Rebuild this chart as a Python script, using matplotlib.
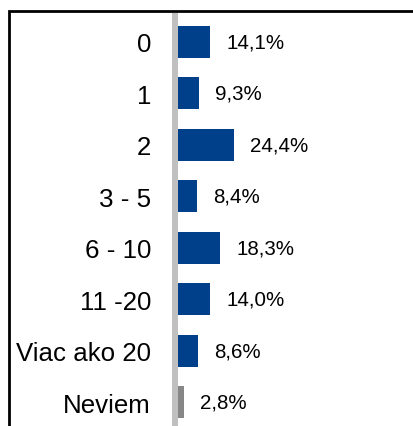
import matplotlib
matplotlib.use("Agg")
import matplotlib.pyplot as plt
from matplotlib.patches import Rectangle

categories = ["0", "1", "2", "3 - 5", "6 - 10", "11 -20", "Viac ako 20", "Neviem"]
values = [14.1, 9.3, 24.4, 8.4, 18.3, 14.0, 8.6, 2.8]
labels = ["14,1%", "9,3%", "24,4%", "8,4%", "18,3%", "14,0%", "8,6%", "2,8%"]
colors = ["#00408A"] * 7 + ["#878787"]

plt.rcParams['font.family'] = ['Liberation Sans', 'DejaVu Sans']

W, H = 413, 427
fig = plt.figure(figsize=(W / 100, H / 100), dpi=100)

# axes in pixel coordinates
x0, x1 = 178, 400
y_top, y_bot = 17, 429
ax = fig.add_axes([x0 / W, 1 - y_bot / H, (x1 - x0) / W, (y_bot - y_top) / H])

ypos = list(range(len(categories)))
ax.barh(ypos, values, height=0.62, color=colors, edgecolor='none')
ax.set_ylim(len(categories) - 0.5, -0.5)
ax.set_xlim(0, (x1 - x0) / 2.3)

for y, v, t in zip(ypos, values, labels):
    ax.annotate(t, xy=(v, y), xytext=(11.5, 0), textcoords='offset points',
                ha='left', va='center', fontsize=14.8, color='black')

ax.set_yticks(ypos)
ax.set_yticklabels(categories)
ax.tick_params(axis='y', length=0, pad=17.3, labelsize=18.6)
ax.set_xticks([])
for s in ['top', 'right', 'bottom']:
    ax.spines[s].set_visible(False)
ax.spines['left'].set_color('#C0C0C0')
ax.spines['left'].set_linewidth(4.3)
ax.spines['left'].set_position(('outward', 2.2))
ax.patch.set_visible(False)

# outer frame
frame = Rectangle((8.5 / W, -0.1), 1.2, (1 - 11.5 / H) + 0.1,
                  transform=fig.transFigure, fill=False,
                  edgecolor='black', linewidth=2.0, clip_on=False)
fig.add_artist(frame)

fig.savefig("out.png", dpi=100)
